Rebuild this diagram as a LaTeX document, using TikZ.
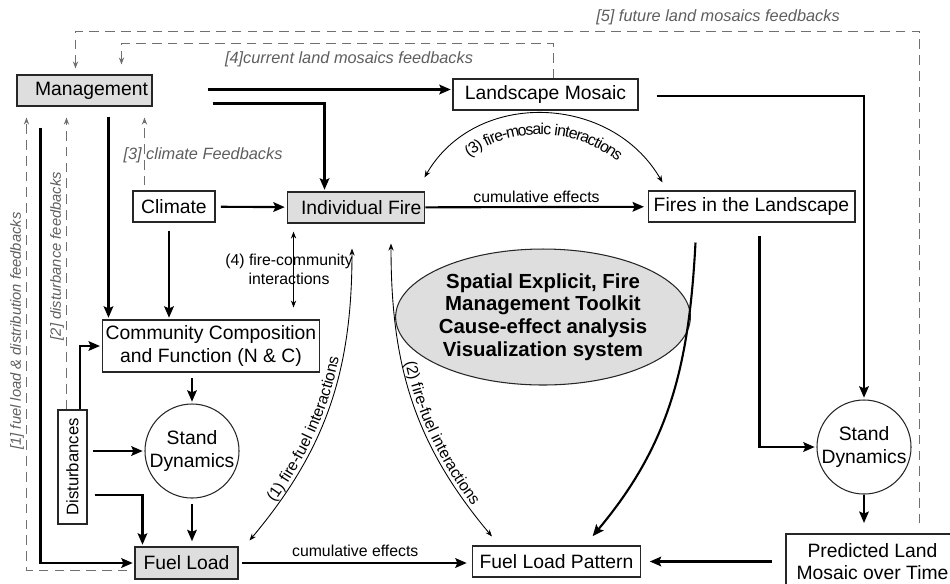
\documentclass[tikz,border=0pt]{standalone}
\usepackage{fontspec}
\setmainfont{Liberation Sans}
\usepackage{graphicx}
\usepackage{tikz}
\usetikzlibrary{arrows.meta,calc,shapes.geometric,decorations.text}

\definecolor{boxgray}{HTML}{DEDEDE}
\definecolor{fbgray}{HTML}{707070}
\definecolor{fbtextgray}{HTML}{5E5E5E}

\begin{document}
\begin{tikzpicture}[x=0.02cm,y=-0.02cm,
    box/.style={draw=black!85,line width=0.6pt,inner sep=2pt,align=center,
      font=\fontsize{11}{13}\selectfont},
    grey/.style={box,fill=boxgray},
    stand/.style={circle,draw=black!85,line width=0.6pt,minimum size=1.84cm,
      inner sep=0pt,align=center,font=\fontsize{11}{13}\selectfont},
    flow/.style={line width=1.2pt,shorten >=1pt,
      -{Stealth[length=6.5pt,width=5.5pt,inset=1.2pt]}},
    inter/.style={line width=0.5pt,
      {Stealth[length=4pt,width=3pt]}-{Stealth[length=4pt,width=3pt]}},
    fb/.style={draw=fbgray,line width=0.75pt,dash pattern=on 5.5pt off 3.5pt,
      -{Stealth[length=4pt,width=3pt]}},
    fbtext/.style={text=fbtextgray,inner sep=1pt,
      font=\fontsize{9.3}{11}\selectfont\itshape},
    lbl/.style={inner sep=1pt,font=\fontsize{9}{11}\selectfont}
  ]
  \useasboundingbox (0,0) rectangle (950,583);
  \clip (0,0) rectangle (950,583);

  % boxes
  \node[grey,minimum width=2.7cm,minimum height=0.62cm] (mgmt) at (84.5,90.5) {\hspace{8pt}Management};
  \node[box,minimum width=3.7cm,minimum height=0.62cm] (mosaic) at (545.5,94.5) {Landscape Mosaic};
  \node[box,minimum width=1.64cm,minimum height=0.62cm] (climate) at (174,206.5) {Climate};
  \node[grey,minimum width=2.68cm,minimum height=0.62cm] (fire) at (356,207.5) {\hspace{6pt}Individual Fire};
  \node[box,minimum width=4.14cm,minimum height=0.62cm] (fires) at (751.5,206.5) {Fires in the Landscape};
  \node[box,minimum width=4.24cm,minimum height=1.04cm] (community) at (211,346)
    {Community Composition\\and Function (N \& C)};
  \node[box,minimum width=0.58cm,minimum height=2.28cm,inner sep=0pt,
    font=\fontsize{9.5}{11}\selectfont] (dist) at (72.5,467) {\rotatebox{90}{Disturbances}};
  \node[stand] (standL) at (192,451) {Stand\\Dynamics};
  \node[grey,minimum width=2.06cm,minimum height=0.64cm] (fuel) at (186.5,563) {Fuel Load};
  \node[box,minimum width=3.36cm,minimum height=0.62cm] (pattern) at (556.5,561.5) {Fuel Load Pattern};
  \node[box,minimum width=3.46cm,minimum height=1.1cm] (predicted) at (872.5,561.5)
    {Predicted Land\\Mosaic over Time};
  \node[stand] (standR) at (864,447) {Stand\\Dynamics};
  \node[ellipse,draw=black!85,line width=0.6pt,fill=boxgray,minimum width=5.24cm,
    minimum height=2.72cm,inner sep=0pt,align=center,
    font=\fontsize{11.6}{13}\selectfont\bfseries] (toolkit) at (543,317)
    {Spatial Explicit, Fire\\Management Toolkit\\Cause-effect analysis\\Visualization system};

  % feedback labels
  \node[fbtext,rotate=90,font=\fontsize{8.4}{10}\selectfont\itshape] (fb1) at (17,331)
    {[1] fuel load \& distribution feedbacks};
  \node[fbtext,rotate=90,font=\fontsize{8.4}{10}\selectfont\itshape] (fb2) at (57,256)
    {[2] disturbance feedbacks};
  \node[fbtext] (fb3) at (203,155) {[3] climate Feedbacks};
  \node[fbtext] (fb4) at (349,59) {[4]current land mosaics feedbacks};
  \node[fbtext] (fb5) at (718,17) {[5] future land mosaics feedbacks};

  % helper points
  \coordinate (top1) at ($(mgmt.south west)+(10,11)$);
  \coordinate (top2) at ($(mgmt.south west)+(50,11)$);
  \coordinate (top3) at ($(mgmt.south west)+(128,11)$);
  \coordinate (mdown) at ($(mgmt.south west)+(92,10)$);
  \coordinate (cdown) at ($(climate.south)+(-5,8)$);

  % dashed feedbacks
  \draw[fb] ($(fuel.south west)+(-7,-9)$) -| (top1);
  \draw[fb] (dist.north -| top2) -- (top2);
  \draw[fb] ($(climate.north -| top3)+(0,-5)$) -- (top3);
  \draw[fb] ($(mosaic.north)+(8,0)$) -- ++(0,-35) -| ($(mgmt.north west)+(105,-10)$);
  \draw[fb] ($(predicted.north west)+(134,-10)$) -- ++(0,-492) -| ($(mgmt.north west)+(59,-6)$);

  % main flows
  \draw[flow] ($(mgmt.east)+(55,-1)$) -- ($(mosaic.west)+(0,-5)$);
  \draw[flow] ($(mgmt.south east)+(60,-3)$) -| ($(fire.north west)+(38,0)$);
  \draw[flow] (mdown) -- (mdown |- community.north);
  \draw[flow] ($(mgmt.south west)+(24,21)$) |- (fuel.west);
  \draw[flow,shorten <=3pt] (climate) -- (fire);
  \draw[flow] (cdown) -- (cdown |- community.north);
  \draw[flow,shorten >=2pt] (fire) -- node[lbl,above=1pt]{cumulative effects} (fires);
  \draw[flow] ($(mosaic.east)+(18,1.5)$) -| (standR);
  \draw[flow] ($(fires.south)+(8,13)$) |- (standR);
  \draw[flow,shorten >=6pt] (standR) -- (standR |- predicted.north);
  \draw[flow,shorten >=5pt] ($(pattern.east)+(131,0)$) -- (pattern.east);
  \draw[flow,shorten <=2pt,shorten >=3pt] (fuel.east) -- node[lbl,above=2pt]{cumulative effects} (fuel.east -| pattern.west);
  \draw[flow,shorten <=3pt] (standL.north |- community.south) -- (standL);
  \draw[flow,shorten <=3pt,shorten >=3pt] (standL) -- (standL |- fuel.north);
  \draw[flow] ($(dist.north)+(7.5,0)$) |- (community.west);
  \draw[flow] ($(dist.east)+(5,-16)$) -- (standL);
  \draw[flow] ($(dist.east)+(7,28)$) -| ($(fuel.north west)+(8,0)$);
  \draw[flow] ($(fires.south west)+(48,20)$) to[out=-93,in=50] ($(pattern.north)+(35,-8)$);

  % interactions
  \draw[inter] ($(fire.north east)+(-1,-14)$) to[out=60,in=120,looseness=1.1] ($(fires.north west)+(15,-8)$);
  \path[decorate,decoration={text along path,text align=center,raise=-12pt,
      text={|\fontsize{9}{11}\selectfont|(3) fire-mosaic interactions}}]
    ($(fire.north east)+(-1,-14)$) to[out=60,in=120,looseness=1.1] ($(fires.north west)+(15,-8)$);

  \draw[inter] ($(fire.south west)+(7,8)$) -- ++(0,76);
  \node[lbl,align=center] (fc) at (289,269) {(4) fire-community\\interactions};

  \draw[inter] ($(fuel.north east)+(11,-6)$) to[out=50,in=-90] ($(fire.south)+(-4,25)$);
  \path[decorate,decoration={text along path,text align={left indent=0.9cm},raise=2pt,
      text={|\fontsize{9}{11}\selectfont|(1) fire-fuel interactions}}]
    ($(fuel.north east)+(11,-6)$) to[out=50,in=-90] ($(fire.south)+(-4,25)$);

  \draw[inter] ($(fire.south)+(35,20)$) to[out=-90,in=130] ($(pattern.north west)+(20,-9)$);
  \path[decorate,decoration={text along path,text align={left indent=2.4cm},raise=2pt,
      text={|\fontsize{9}{11}\selectfont|(2) fire-fuel interactions}}]
    ($(fire.south)+(35,20)$) to[out=-90,in=130] ($(pattern.north west)+(20,-9)$);
\end{tikzpicture}
\end{document}
